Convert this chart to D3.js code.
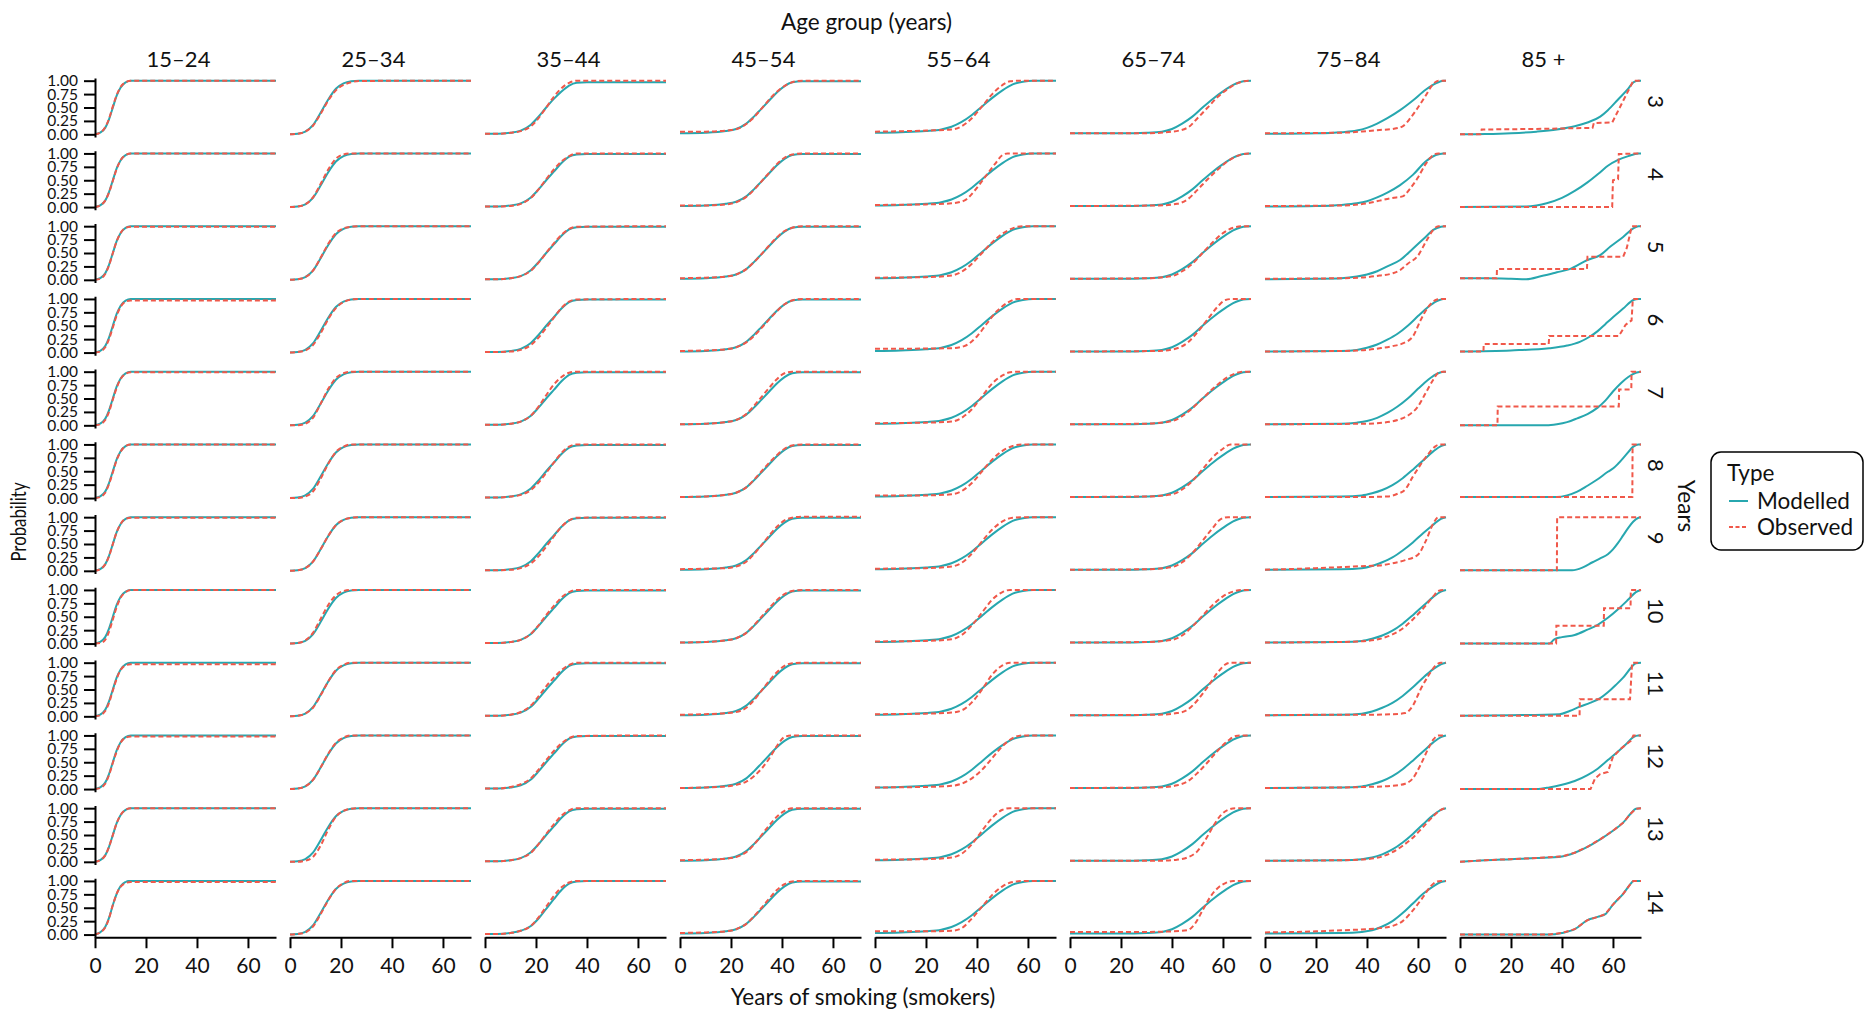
<!DOCTYPE html>
<html>
<head>
<meta charset="utf-8">
<script src="https://cdn.jsdelivr.net/npm/d3@7"></script>
<style>
  html, body { margin: 0; padding: 0; background: #fff; }
  svg { display: block; font-family: Lato, "Open Sans", sans-serif; }
</style>
</head>
<body>
<svg id="chart" width="1865" height="1011"></svg>
<script>
// Facets: columns are age groups, rows are follow-up years
const ageGroups = ["15–24", "25–34", "35–44", "45–54", "55–64", "65–74", "75–84", "85 +"];
const yearGroups = [3, 4, 5, 6, 7, 8, 9, 10, 11, 12, 13, 14];
const xTicks = [0, 20, 40, 60];
const yTicks = [0, 0.25, 0.5, 0.75, 1];
const seriesNames = ["Modelled", "Observed"];

// Each curve is a flat list x0, y0, x1, y1, ... (years of smoking, probability); one curve per year row
const mod_15_24 = [
  [0,0,2,0.03,4,0.12,5.5,0.28,7,0.5,8.5,0.72,10,0.87,12,0.97,14,1,71,1],
  [0,0,2,0.03,4,0.12,5.5,0.28,7,0.5,8.5,0.72,10,0.87,12,0.97,14,1,71,1],
  [0,0,2,0.03,4,0.12,5.5,0.28,7,0.5,8.5,0.72,10,0.87,12,0.97,14,1,71,1],
  [0,0,2,0.03,4,0.12,5.5,0.28,7,0.5,8.5,0.72,10,0.87,12,0.97,14,1,71,1],
  [0,0,2,0.03,4,0.12,5.5,0.28,7,0.5,8.5,0.72,10,0.87,12,0.97,14,1,71,1],
  [0,0,2,0.03,4,0.12,5.5,0.28,7,0.5,8.5,0.72,10,0.87,12,0.97,14,1,71,1],
  [0,0,2,0.03,4,0.12,5.5,0.28,7,0.5,8.5,0.72,10,0.87,12,0.97,14,1,71,1],
  [0,0,2,0.03,4,0.12,5.5,0.28,7,0.5,8.5,0.72,10,0.87,12,0.97,14,1,71,1],
  [0,0,2,0.03,4,0.12,5.5,0.28,7,0.5,8.5,0.72,10,0.87,12,0.97,14,1,71,1],
  [0,0,2,0.03,4,0.12,5.5,0.28,7,0.5,8.5,0.72,10,0.87,12,0.97,14,1,71,1],
  [0,0,2,0.03,4,0.12,5.5,0.28,7,0.5,8.5,0.72,10,0.87,12,0.97,14,1,71,1],
  [0,0,2,0.04,4,0.14,5.5,0.31,7,0.55,8.5,0.76,10,0.9,12,0.98,13,1,71,1]
];
const obs_15_24 = [
  [0,0,2,0.03,4,0.13,5.5,0.29,7,0.52,8.5,0.73,10,0.88,12,0.97,14,1,71,1],
  [0,0,2,0.03,4,0.12,5.5,0.27,7,0.49,8.5,0.71,10,0.87,12,0.97,14,1,71,1],
  [0,0,2,0.02,4,0.11,5.5,0.27,7,0.5,8.5,0.72,10,0.87,12,0.97,14,0.99,71,0.99],
  [0,0,2,0.02,4,0.1,5.5,0.25,7,0.47,8.5,0.69,10,0.85,12,0.95,14,0.97,71,0.97],
  [0,0,2,0.02,4,0.1,5.5,0.25,7,0.48,8.5,0.7,10,0.86,12,0.96,14,0.99,71,0.99],
  [0,0,2,0.02,4,0.1,5.5,0.26,7,0.48,8.5,0.71,10,0.86,12,0.97,14,1,71,1],
  [0,0,2,0.03,4,0.12,5.5,0.27,7,0.5,8.5,0.72,10,0.87,12,0.97,14,0.99,71,0.99],
  [0,0,2,0.01,4,0.07,5.5,0.22,7,0.45,8.5,0.68,10,0.85,12,0.96,14,1,71,1],
  [0,0,2,0.02,4,0.1,5.5,0.25,7,0.48,8.5,0.7,10,0.86,12,0.95,14,0.97,71,0.97],
  [0,0,2,0.02,4,0.1,5.5,0.26,7,0.49,8.5,0.7,10,0.86,12,0.96,14,0.98,71,0.98],
  [0,0,2,0.03,4,0.12,5.5,0.28,7,0.5,8.5,0.72,10,0.87,12,0.97,14,1,71,1],
  [0,0,2,0.04,4,0.13,5.5,0.3,7,0.55,8.5,0.76,10,0.89,12,0.96,14,0.98,71,0.98]
];

const mod_25_34 = [
  [0,0,3,0.01,6,0.05,9,0.17,12,0.4,15,0.65,18,0.85,21,0.95,24,0.99,27,1,71,1],
  [0,0,3,0.01,6,0.05,9,0.17,12,0.4,15,0.65,18,0.85,21,0.95,24,0.99,27,1,71,1],
  [0,0,3,0.01,6,0.05,9,0.17,12,0.4,15,0.65,18,0.85,21,0.95,24,0.99,27,1,71,1],
  [0,0,3,0.01,6,0.05,9,0.17,12,0.4,15,0.65,18,0.85,21,0.95,24,0.99,27,1,71,1],
  [0,0,3,0.01,6,0.05,9,0.17,12,0.4,15,0.65,18,0.85,21,0.95,24,0.99,27,1,71,1],
  [0,0,3,0.01,6,0.05,9,0.17,12,0.4,15,0.65,18,0.85,21,0.95,24,0.99,27,1,71,1],
  [0,0,3,0.01,6,0.05,9,0.17,12,0.4,15,0.65,18,0.85,21,0.95,24,0.99,27,1,71,1],
  [0,0,3,0.01,6,0.05,9,0.17,12,0.4,15,0.65,18,0.85,21,0.95,24,0.99,27,1,71,1],
  [0,0,3,0.01,6,0.05,9,0.17,12,0.4,15,0.65,18,0.85,21,0.95,24,0.99,27,1,71,1],
  [0,0,3,0.01,6,0.05,9,0.17,12,0.4,15,0.65,18,0.85,21,0.95,24,0.99,27,1,71,1],
  [0,0,3,0.01,6,0.05,9,0.17,12,0.4,15,0.65,18,0.85,21,0.95,24,0.99,27,1,71,1],
  [0,0,3,0.01,6,0.05,9,0.17,12,0.4,15,0.65,18,0.85,21,0.95,24,0.99,27,1,71,1]
];
const obs_25_34 = [
  [0,0,3,0.01,6,0.05,9,0.16,12,0.38,15,0.63,18,0.82,21,0.92,24,0.97,27,0.995,71,1],
  [0,0,3,0.01,6,0.05,9,0.18,12,0.43,15,0.7,18,0.9,21,0.98,24,1,71,1],
  [0,0,3,0.01,6,0.05,9,0.17,12,0.41,15,0.67,18,0.87,21,0.96,24,0.99,27,1,71,1],
  [0,0,3,0.01,6,0.04,9,0.14,12,0.36,15,0.62,18,0.83,21,0.94,24,0.99,27,1,71,1],
  [0,0,3,0,6,0.03,9,0.14,12,0.4,15,0.68,18,0.88,21,0.97,24,1,71,1],
  [0,0,3,0,6,0.03,9,0.12,12,0.36,15,0.64,18,0.86,21,0.96,24,1,71,1],
  [0,0,3,0.01,6,0.05,9,0.17,12,0.4,15,0.65,18,0.85,21,0.95,24,0.99,27,1,71,1],
  [0,0,3,0.01,6,0.06,9,0.2,12,0.46,15,0.72,18,0.9,21,0.98,24,1,71,1],
  [0,0,3,0.01,6,0.05,9,0.16,12,0.39,15,0.65,18,0.86,21,0.96,24,1,71,1],
  [0,0,3,0.01,6,0.05,9,0.17,12,0.4,15,0.66,18,0.86,21,0.96,24,1,71,1],
  [0,0,3,0,6,0.02,9,0.09,12,0.3,15,0.6,18,0.84,21,0.95,24,0.99,27,1,71,1],
  [0,0,3,0.01,6,0.04,9,0.15,12,0.38,15,0.64,18,0.85,21,0.96,24,1,71,1]
];

const mod_35_44 = [
  [0,0.01,5,0.01,10,0.03,14,0.07,18,0.18,21,0.33,24,0.5,27,0.66,30,0.8,33,0.91,36,0.96,40,0.97,71,0.97],
  [0,0.01,5,0.01,10,0.03,14,0.07,18,0.18,21,0.33,24,0.5,27,0.66,30,0.82,33,0.94,36,0.98,40,0.99,71,0.99],
  [0,0.01,5,0.01,10,0.03,14,0.07,18,0.18,21,0.33,24,0.5,27,0.66,30,0.82,33,0.94,36,0.98,40,0.99,71,0.99],
  [0,0.01,5,0.01,10,0.03,14,0.07,18,0.18,21,0.33,24,0.5,27,0.66,30,0.82,33,0.94,36,0.98,40,0.99,71,0.99],
  [0,0.01,5,0.01,10,0.03,14,0.07,18,0.18,21,0.33,24,0.5,27,0.66,30,0.82,33,0.94,36,0.98,40,0.99,71,0.99],
  [0,0.01,5,0.01,10,0.03,14,0.07,18,0.18,21,0.33,24,0.5,27,0.66,30,0.82,33,0.94,36,0.98,40,0.99,71,0.99],
  [0,0.01,5,0.01,10,0.03,14,0.07,18,0.18,21,0.33,24,0.5,27,0.66,30,0.82,33,0.94,36,0.98,40,0.99,71,0.99],
  [0,0.01,5,0.01,10,0.03,14,0.07,18,0.18,21,0.33,24,0.5,27,0.66,30,0.82,33,0.94,36,0.98,40,0.99,71,0.99],
  [0,0.01,5,0.01,10,0.03,14,0.07,18,0.18,21,0.33,24,0.5,27,0.66,30,0.82,33,0.94,36,0.98,40,0.99,71,0.99],
  [0,0.01,5,0.01,10,0.03,14,0.07,18,0.18,21,0.33,24,0.5,27,0.66,30,0.82,33,0.94,36,0.98,40,0.99,71,0.99],
  [0,0.01,5,0.01,10,0.03,14,0.07,18,0.18,21,0.33,24,0.5,27,0.66,30,0.82,33,0.94,36,0.98,40,0.99,71,0.99],
  [0,0.01,5,0.01,10,0.03,14,0.07,18,0.16,21,0.3,24,0.48,27,0.66,30,0.83,33,0.95,36,0.99,40,1,71,1]
];
const obs_35_44 = [
  [0,0.01,5,0.01,10,0.03,14,0.06,18,0.15,21,0.3,24,0.5,27,0.7,30,0.86,33,0.96,36,1,71,1],
  [0,0.01,5,0.01,10,0.02,14,0.06,18,0.17,21,0.33,24,0.52,27,0.7,30,0.85,33,0.95,36,1,71,1],
  [0,0.01,5,0.01,10,0.03,14,0.07,18,0.17,21,0.32,24,0.5,27,0.68,30,0.84,33,0.95,36,0.99,71,1],
  [0,0.01,5,0.01,10,0.02,14,0.05,18,0.14,21,0.28,24,0.46,27,0.65,30,0.83,33,0.95,36,0.99,71,1],
  [0,0.01,5,0.01,10,0.03,14,0.07,18,0.18,21,0.35,24,0.56,27,0.76,30,0.9,33,0.98,36,1,71,1],
  [0,0.01,5,0.01,10,0.03,14,0.06,18,0.15,21,0.29,24,0.47,27,0.66,30,0.84,33,0.96,36,1,71,1],
  [0,0.01,5,0.01,10,0.02,14,0.05,18,0.14,21,0.27,24,0.45,27,0.64,30,0.82,33,0.94,36,0.99,71,1],
  [0,0.01,5,0.01,10,0.03,14,0.07,18,0.18,21,0.34,24,0.53,27,0.7,30,0.86,33,0.96,36,1,71,1],
  [0,0.01,5,0.01,10,0.03,14,0.08,18,0.2,21,0.37,24,0.56,27,0.72,30,0.86,33,0.96,36,1,71,1],
  [0,0.01,5,0.01,10,0.04,14,0.09,18,0.2,21,0.36,24,0.54,27,0.71,30,0.85,33,0.95,36,0.99,71,1],
  [0,0.01,5,0.01,10,0.03,14,0.07,18,0.17,21,0.33,24,0.52,27,0.7,30,0.86,33,0.96,36,1,71,1],
  [0,0.01,5,0.01,10,0.03,14,0.07,18,0.16,21,0.32,24,0.52,27,0.72,30,0.88,33,0.97,36,1,71,1]
];

const mod_45_54 = [
  [0,0.02,10,0.03,18,0.06,22,0.1,26,0.2,29,0.33,32,0.48,35,0.63,38,0.78,41,0.9,44,0.97,48,0.99,71,0.99],
  [0,0.02,10,0.03,18,0.06,22,0.1,26,0.2,29,0.33,32,0.48,35,0.63,38,0.78,41,0.9,44,0.97,48,0.99,71,0.99],
  [0,0.02,10,0.03,18,0.06,22,0.1,26,0.2,29,0.33,32,0.48,35,0.63,38,0.78,41,0.9,44,0.97,48,0.99,71,0.99],
  [0,0.02,10,0.03,18,0.06,22,0.1,26,0.2,29,0.33,32,0.48,35,0.63,38,0.78,41,0.9,44,0.97,48,0.99,71,0.99],
  [0,0.02,10,0.03,18,0.06,22,0.1,26,0.2,29,0.33,32,0.48,35,0.63,38,0.78,41,0.9,44,0.97,48,0.99,71,0.99],
  [0,0.02,10,0.03,18,0.06,22,0.1,26,0.2,29,0.33,32,0.48,35,0.63,38,0.78,41,0.9,44,0.97,48,0.99,71,0.99],
  [0,0.02,10,0.03,18,0.06,22,0.1,26,0.2,29,0.33,32,0.48,35,0.63,38,0.78,41,0.9,44,0.97,48,0.99,71,0.99],
  [0,0.02,10,0.03,18,0.06,22,0.1,26,0.2,29,0.33,32,0.48,35,0.63,38,0.78,41,0.9,44,0.97,48,0.99,71,0.99],
  [0,0.02,10,0.03,18,0.06,22,0.1,26,0.2,29,0.33,32,0.48,35,0.63,38,0.78,41,0.9,44,0.97,48,0.99,71,0.99],
  [0,0.02,10,0.03,18,0.06,22,0.1,26,0.2,29,0.33,32,0.48,35,0.63,38,0.78,41,0.9,44,0.97,48,0.99,71,0.99],
  [0,0.02,10,0.03,18,0.06,22,0.1,26,0.2,29,0.33,32,0.48,35,0.63,38,0.78,41,0.9,44,0.97,48,0.99,71,0.99],
  [0,0.02,10,0.03,18,0.06,22,0.1,26,0.2,29,0.33,32,0.48,35,0.63,38,0.78,41,0.9,44,0.97,48,0.99,71,0.99]
];
const obs_45_54 = [
  [0,0.05,10,0.05,20,0.08,24,0.13,28,0.27,32,0.48,36,0.7,40,0.87,44,0.97,48,1,71,1],
  [0,0.03,10,0.03,18,0.05,22,0.09,26,0.19,29,0.32,32,0.48,35,0.64,38,0.8,41,0.92,44,0.98,48,1,71,1],
  [0,0.03,10,0.04,18,0.06,22,0.1,26,0.2,29,0.33,32,0.48,35,0.64,38,0.79,41,0.91,44,0.97,48,1,71,1],
  [0,0.03,10,0.04,18,0.06,22,0.1,26,0.19,29,0.31,32,0.46,35,0.62,38,0.77,41,0.9,44,0.97,48,1,71,1],
  [0,0.02,10,0.03,18,0.06,22,0.1,26,0.21,29,0.36,32,0.53,35,0.7,38,0.86,41,0.97,44,1,71,1],
  [0,0.02,10,0.03,18,0.06,22,0.1,26,0.2,29,0.34,32,0.5,35,0.66,38,0.8,41,0.92,44,0.98,48,1,71,1],
  [0,0.03,10,0.04,18,0.05,22,0.08,26,0.17,29,0.31,32,0.48,35,0.66,38,0.82,41,0.94,44,0.99,48,1.01,71,1.01],
  [0,0.02,10,0.03,18,0.06,22,0.1,26,0.2,29,0.34,32,0.5,35,0.66,38,0.81,41,0.92,44,0.98,48,1,71,1],
  [0,0.03,10,0.04,18,0.06,22,0.08,26,0.16,29,0.3,32,0.48,35,0.66,38,0.82,41,0.94,44,0.99,48,1,71,1],
  [0,0.02,10,0.03,18,0.05,22,0.08,26,0.14,29,0.24,32,0.38,35,0.57,38,0.8,41,0.97,44,1,71,1],
  [0,0.03,10,0.04,18,0.06,22,0.09,26,0.18,29,0.32,32,0.5,35,0.68,38,0.84,41,0.95,44,1,71,1],
  [0,0.03,10,0.04,18,0.06,22,0.1,26,0.2,29,0.34,32,0.5,35,0.67,38,0.83,41,0.94,44,0.99,48,1,71,1]
];

const mod_55_64 = [
  [0,0.03,10,0.04,20,0.06,26,0.09,30,0.14,34,0.23,38,0.36,42,0.52,46,0.68,50,0.82,54,0.93,58,0.98,62,1,71,1],
  [0,0.03,10,0.04,20,0.06,26,0.09,30,0.14,34,0.23,38,0.36,42,0.52,46,0.68,50,0.82,54,0.93,58,0.98,62,1,71,1],
  [0,0.03,10,0.04,20,0.06,26,0.09,30,0.14,34,0.23,38,0.36,42,0.52,46,0.68,50,0.82,54,0.93,58,0.98,62,1,71,1],
  [0,0.03,10,0.04,20,0.06,26,0.09,30,0.14,34,0.23,38,0.36,42,0.52,46,0.68,50,0.82,54,0.93,58,0.98,62,1,71,1],
  [0,0.03,10,0.04,20,0.06,26,0.09,30,0.14,34,0.23,38,0.36,42,0.52,46,0.68,50,0.82,54,0.93,58,0.98,62,1,71,1],
  [0,0.03,10,0.04,20,0.06,26,0.09,30,0.14,34,0.23,38,0.36,42,0.52,46,0.68,50,0.82,54,0.93,58,0.98,62,1,71,1],
  [0,0.03,10,0.04,20,0.06,26,0.09,30,0.14,34,0.23,38,0.36,42,0.52,46,0.68,50,0.82,54,0.93,58,0.98,62,1,71,1],
  [0,0.03,10,0.04,20,0.06,26,0.09,30,0.14,34,0.23,38,0.36,42,0.52,46,0.68,50,0.82,54,0.93,58,0.98,62,1,71,1],
  [0,0.03,10,0.04,20,0.06,26,0.09,30,0.14,34,0.23,38,0.36,42,0.52,46,0.68,50,0.82,54,0.93,58,0.98,62,1,71,1],
  [0,0.03,10,0.04,20,0.06,26,0.09,30,0.14,34,0.23,38,0.36,42,0.52,46,0.68,50,0.82,54,0.93,58,0.98,62,1,71,1],
  [0,0.03,10,0.04,20,0.06,26,0.09,30,0.14,34,0.23,38,0.36,42,0.52,46,0.68,50,0.82,54,0.93,58,0.98,62,1,71,1],
  [0,0.03,10,0.04,20,0.06,26,0.09,30,0.14,34,0.23,38,0.36,42,0.52,46,0.68,50,0.82,54,0.93,58,0.98,62,1,71,1]
];
const obs_55_64 = [
  [0,0.05,20,0.07,30,0.09,34,0.15,38,0.3,42,0.52,46,0.75,50,0.92,53,0.99,56,1,71,1],
  [0,0.04,20,0.05,30,0.07,35,0.12,39,0.3,43,0.55,47,0.8,50,0.97,52,1,71,1],
  [0,0.04,20,0.05,30,0.08,34,0.15,38,0.3,42,0.5,46,0.7,50,0.86,54,0.96,58,1,71,1],
  [0,0.07,30,0.08,35,0.12,40,0.3,44,0.55,48,0.78,52,0.93,56,1,71,1],
  [0,0.04,20,0.05,30,0.07,34,0.14,38,0.3,42,0.54,46,0.78,50,0.93,53,0.99,56,1,71,1],
  [0,0.05,20,0.05,30,0.07,34,0.13,38,0.28,42,0.5,46,0.72,50,0.88,54,0.97,58,1,71,1],
  [0,0.04,20,0.05,30,0.08,34,0.15,38,0.32,42,0.55,46,0.77,50,0.92,54,0.99,58,1,71,1],
  [0,0.04,20,0.05,30,0.08,34,0.16,38,0.34,42,0.58,46,0.82,50,0.96,53,1,71,1],
  [0,0.04,20,0.05,30,0.07,34,0.11,38,0.26,42,0.5,46,0.78,50,0.95,53,1,71,1],
  [0,0.03,20,0.04,30,0.06,34,0.1,38,0.2,42,0.36,46,0.58,50,0.8,54,0.95,58,1,71,1],
  [0,0.04,20,0.05,30,0.08,34,0.15,38,0.33,42,0.58,46,0.82,50,0.97,53,1,71,1],
  [0,0.06,20,0.06,30,0.07,34,0.12,38,0.3,42,0.52,46,0.74,50,0.9,54,0.98,58,1,71,1]
];

const mod_65_74 = [
  [0,0.02,20,0.02,30,0.03,36,0.05,40,0.1,44,0.2,48,0.33,52,0.5,56,0.66,60,0.8,64,0.92,68,0.99,71,1],
  [0,0.02,20,0.02,30,0.03,36,0.05,40,0.1,44,0.2,48,0.33,52,0.5,56,0.66,60,0.8,64,0.92,68,0.99,71,1],
  [0,0.02,20,0.02,30,0.03,36,0.05,40,0.1,44,0.2,48,0.33,52,0.5,56,0.66,60,0.8,64,0.92,68,0.99,71,1],
  [0,0.02,20,0.02,30,0.03,36,0.05,40,0.1,44,0.2,48,0.33,52,0.5,56,0.66,60,0.8,64,0.92,68,0.99,71,1],
  [0,0.02,20,0.02,30,0.03,36,0.05,40,0.1,44,0.2,48,0.33,52,0.5,56,0.66,60,0.8,64,0.92,68,0.99,71,1],
  [0,0.02,20,0.02,30,0.03,36,0.05,40,0.1,44,0.2,48,0.33,52,0.5,56,0.66,60,0.8,64,0.92,68,0.99,71,1],
  [0,0.02,20,0.02,30,0.03,36,0.05,40,0.1,44,0.2,48,0.33,52,0.5,56,0.66,60,0.8,64,0.92,68,0.99,71,1],
  [0,0.02,20,0.02,30,0.03,36,0.05,40,0.1,44,0.2,48,0.33,52,0.5,56,0.66,60,0.8,64,0.92,68,0.99,71,1],
  [0,0.02,20,0.02,30,0.03,36,0.05,40,0.1,44,0.2,48,0.33,52,0.5,56,0.66,60,0.8,64,0.92,68,0.99,71,1],
  [0,0.02,20,0.02,30,0.03,36,0.05,40,0.1,44,0.2,48,0.33,52,0.5,56,0.66,60,0.8,64,0.92,68,0.99,71,1],
  [0,0.02,20,0.02,30,0.03,36,0.05,40,0.1,44,0.2,48,0.33,52,0.5,56,0.66,60,0.8,64,0.92,68,0.99,71,1],
  [0,0.02,20,0.02,30,0.03,36,0.05,40,0.1,44,0.2,48,0.33,52,0.5,56,0.66,60,0.8,64,0.92,68,0.99,71,1]
];
const obs_65_74 = [
  [0,0.02,30,0.02,40,0.05,46,0.12,50,0.3,54,0.5,58,0.7,62,0.85,66,0.96,70,1,71,1],
  [0,0.02,35,0.03,42,0.06,46,0.14,50,0.32,54,0.52,58,0.7,62,0.86,66,0.96,70,1,71,1],
  [0,0.02,30,0.03,40,0.07,44,0.16,48,0.3,52,0.5,56,0.7,60,0.87,64,0.97,68,1,71,1],
  [0,0.02,35,0.03,42,0.08,46,0.18,50,0.38,54,0.62,58,0.86,61,0.98,64,1,71,1],
  [0,0.02,30,0.03,40,0.08,44,0.17,48,0.32,52,0.5,56,0.68,60,0.84,64,0.95,68,1,71,1],
  [0,0.02,30,0.03,40,0.07,44,0.16,48,0.32,52,0.54,56,0.76,60,0.92,63,1,71,1],
  [0,0.02,30,0.03,40,0.07,44,0.16,48,0.33,52,0.56,56,0.8,59,0.96,62,1,71,1],
  [0,0.02,30,0.03,40,0.07,44,0.15,48,0.32,52,0.52,56,0.72,60,0.88,64,0.97,68,1,71,1],
  [0,0.02,35,0.03,42,0.06,46,0.12,50,0.3,54,0.55,58,0.82,61,0.97,63,1,71,1],
  [0,0.02,35,0.03,42,0.07,46,0.14,50,0.3,54,0.5,58,0.72,62,0.9,65,0.99,67,1,71,1],
  [0,0.02,35,0.02,42,0.04,46,0.08,50,0.2,53,0.4,56,0.65,59,0.86,62,0.97,65,1,71,1],
  [0,0.05,30,0.05,40,0.06,46,0.08,49,0.2,52,0.45,55,0.7,58,0.87,61,0.96,64,1,71,1]
];

const mod_75_84 = [
  [0,0.01,20,0.02,30,0.04,36,0.07,40,0.12,44,0.2,48,0.3,53,0.45,58,0.63,63,0.83,67,0.95,70,1,71,1],
  [0,0.01,20,0.02,30,0.04,36,0.07,40,0.11,44,0.18,48,0.27,53,0.41,58,0.6,63,0.85,67,0.97,70,1,71,1],
  [0,0.01,20,0.02,30,0.03,36,0.06,40,0.1,44,0.16,48,0.25,53,0.37,58,0.58,63,0.8,66,0.93,69,0.99,71,1],
  [0,0.02,30,0.03,36,0.05,40,0.09,44,0.15,48,0.24,52,0.35,56,0.5,60,0.68,64,0.85,67,0.95,70,1,71,1],
  [0,0.02,30,0.03,36,0.05,40,0.08,44,0.14,48,0.23,52,0.35,56,0.5,60,0.68,64,0.85,67,0.95,70,1,71,1],
  [0,0.02,30,0.03,38,0.05,42,0.09,46,0.15,50,0.24,54,0.37,58,0.53,62,0.7,66,0.87,69,0.97,71,1],
  [0,0.02,30,0.03,38,0.05,42,0.09,46,0.16,50,0.25,54,0.38,58,0.53,62,0.7,66,0.86,69,0.97,71,1],
  [0,0.02,30,0.03,38,0.05,42,0.09,46,0.15,50,0.24,54,0.37,58,0.53,62,0.7,66,0.87,69,0.97,71,1],
  [0,0.02,30,0.03,38,0.05,42,0.09,46,0.16,50,0.25,54,0.38,58,0.54,62,0.72,66,0.88,69,0.97,71,1],
  [0,0.02,30,0.03,38,0.05,42,0.09,46,0.15,50,0.24,54,0.37,58,0.53,62,0.7,66,0.87,69,0.97,71,1],
  [0,0.02,30,0.03,38,0.05,42,0.08,46,0.14,50,0.23,54,0.36,58,0.52,62,0.7,66,0.87,69,0.97,71,1],
  [0,0.02,30,0.03,38,0.05,42,0.08,46,0.15,50,0.25,54,0.4,58,0.58,62,0.76,66,0.9,69,0.98,71,1]
];
const obs_75_84 = [
  [0,0.02,30,0.03,40,0.06,45,0.08,50,0.1,54,0.15,57,0.3,60,0.5,63,0.72,66,0.94,68,1,71,1],
  [0,0.02,30,0.03,40,0.07,45,0.12,50,0.17,54,0.2,57,0.35,60,0.55,63,0.8,66,0.97,68,1,71,1],
  [0,0.02,30,0.03,40,0.05,45,0.08,50,0.12,53,0.18,56,0.3,60,0.45,63,0.7,66,0.93,68,1,71,1],
  [0,0.02,30,0.03,40,0.05,45,0.08,50,0.12,54,0.17,58,0.3,61,0.6,64,0.85,67,0.98,69,1,71,1],
  [0,0.02,40,0.03,48,0.06,52,0.1,56,0.18,60,0.35,63,0.6,66,0.85,68,0.98,70,1,71,1],
  [0,0.02,40,0.02,48,0.03,52,0.08,55,0.16,58,0.4,61,0.62,64,0.82,67,0.97,69,1,71,1],
  [0,0.02,20,0.05,30,0.07,40,0.09,45,0.1,50,0.14,55,0.2,60,0.3,63,0.55,66,0.88,68,1,71,1],
  [0,0.02,30,0.03,40,0.05,46,0.1,50,0.17,54,0.28,58,0.45,62,0.65,66,0.88,68,0.98,70,1,71,1],
  [0,0.02,30,0.03,40,0.03,50,0.04,55,0.06,58,0.2,61,0.5,64,0.75,67,0.95,69,1,71,1],
  [0,0.02,30,0.03,40,0.04,50,0.06,55,0.1,58,0.2,61,0.45,64,0.75,66,0.92,68,1,71,1],
  [0,0.02,30,0.03,40,0.05,46,0.1,50,0.18,54,0.3,58,0.45,62,0.65,66,0.85,69,0.97,71,1],
  [0,0.04,20,0.06,30,0.08,40,0.1,45,0.12,50,0.16,54,0.25,58,0.45,62,0.7,65,0.9,67,0.98,69,1,71,1]
];

const mod_85_plus = [
  [0,0,10,0.005,20,0.02,30,0.05,38,0.09,45,0.15,50,0.22,55,0.33,58,0.45,62,0.65,66,0.85,68,0.97,70,1,71,1],
  [0,0,26,0.01,30,0.03,34,0.07,40,0.17,45,0.3,50,0.46,55,0.65,58,0.77,62,0.88,66,0.95,70,1,71,1],
  [0,0.03,10,0.03,20,0.02,26,0.01,32,0.07,38,0.14,43,0.2,50,0.37,55,0.46,59,0.62,64,0.8,68,0.96,70,1,71,1],
  [0,0.02,20,0.04,35,0.08,42,0.13,47,0.2,51,0.3,54,0.4,57,0.53,60,0.66,64,0.82,68,0.98,70,1,71,1],
  [0,0,34,0,38,0.02,42,0.06,46,0.13,50,0.21,54,0.33,57,0.46,60,0.63,63,0.78,66,0.9,69,0.98,71,1],
  [0,0.02,38,0.02,42,0.05,46,0.12,50,0.23,54,0.35,58,0.49,60,0.55,62,0.64,65,0.8,68,0.96,70,1,71,1],
  [0,0.01,44,0.01,48,0.06,52,0.16,55,0.23,58,0.31,60,0.4,62,0.52,64,0.66,66,0.8,68,0.92,70,0.99,71,1],
  [0,0,35,0,37,0.08,40,0.12,45,0.16,50,0.26,54,0.35,58,0.48,62,0.64,66,0.82,69,0.96,71,1],
  [0,0.01,20,0.02,39,0.04,43,0.1,47,0.18,51,0.25,55,0.34,58,0.45,61,0.58,64,0.72,67,0.9,69,0.99,71,1],
  [0,0,30,0,35,0.03,40,0.08,45,0.15,50,0.26,54,0.38,58,0.54,62,0.7,65,0.83,68,0.97,70,1,71,1],
  [0,0,10,0.03,20,0.05,30,0.07,40,0.1,45,0.17,50,0.28,55,0.42,60,0.58,64,0.73,67,0.9,69,0.99,71,1],
  [0,0,35,0,40,0.03,45,0.1,50,0.27,54,0.33,57,0.38,60,0.56,64,0.76,67,0.95,68,1,71,1]
];
const obs_85_plus = [
  [0,0,8,0,8.5,0.09,30,0.1,52,0.12,52.5,0.21,59.7,0.22,68,1,71,1],
  [0,0,59.7,0,60,0.5,62,0.52,62.3,0.99,71,1],
  [0,0.03,14.4,0.03,14.5,0.2,49.8,0.2,50,0.43,64,0.43,65.4,0.59,67.4,1,71,1],
  [0,0.02,9.2,0.02,9.3,0.16,34.8,0.16,35,0.31,62.3,0.31,65,0.52,67.3,0.6,67.8,1,71,1],
  [0,0,14.7,0,14.8,0.35,62.3,0.35,62.4,0.67,67.2,0.67,67.3,1,71,1],
  [0,0.02,67.6,0.02,67.7,1,71,1],
  [0,0.01,38,0.01,38.1,1,71,1],
  [0,0,37.7,0,37.8,0.33,56.4,0.33,56.5,0.66,66.9,0.66,67,1,71,1],
  [0,0.01,46.9,0.01,47,0.32,66.7,0.32,67.5,1,71,1],
  [0,0,51.2,0,53,0.2,55,0.28,58,0.32,60,0.6,63,0.75,67,0.9,68,1,71,1],
  [0,0,10,0.03,20,0.05,30,0.07,40,0.1,45,0.17,50,0.28,55,0.42,60,0.58,64,0.73,67,0.9,69,0.99,71,1],
  [0,0,35,0,40,0.03,45,0.1,50,0.27,54,0.33,57,0.38,60,0.56,64,0.76,67,0.95,68,1,71,1]
];

const modelledByAge = [mod_15_24, mod_25_34, mod_35_44, mod_45_54, mod_55_64, mod_65_74, mod_75_84, mod_85_plus];
const observedByAge = [obs_15_24, obs_25_34, obs_35_44, obs_45_54, obs_55_64, obs_65_74, obs_75_84, obs_85_plus];

// ---- layout ----
const svg = d3.select("#chart");
const colour = { Modelled: "#27a7af", Observed: "#f0584a" };
const left0 = 95, top0 = 78, colStep = 195, rowStep = 72.75;
const panelW = 181, panelH = 59;
const textColour = "#111";

const x = d3.scaleLinear().domain([0, 71]).range([0, panelW]);
const y = d3.scaleLinear().domain([-0.05, 1.05]).range([panelH, 0]);

const toPoints = flat => d3.range(0, flat.length, 2).map(i => [flat[i], flat[i + 1]]);
const smoothLine = d3.line().x(d => x(d[0])).y(d => y(d[1])).curve(d3.curveMonotoneX);
const stepLine = d3.line().x(d => x(d[0])).y(d => y(d[1])).curve(d3.curveLinear);

const panels = svg.append("g");

ageGroups.forEach((age, c) => {
  yearGroups.forEach((yr, r) => {
    const g = panels.append("g")
      .attr("transform", `translate(${left0 + c * colStep},${top0 + r * rowStep})`);

    const mod = toPoints(modelledByAge[c][r]);
    const obs = toPoints(observedByAge[c][r]);
    const obsLine = c === ageGroups.length - 1 ? stepLine : smoothLine;

    g.append("path")
      .attr("d", smoothLine(mod))
      .attr("fill", "none")
      .attr("stroke", colour.Modelled)
      .attr("stroke-width", 2);

    g.append("path")
      .attr("d", obsLine(obs))
      .attr("fill", "none")
      .attr("stroke", colour.Observed)
      .attr("stroke-width", 2)
      .attr("stroke-dasharray", "5,3");

    if (c === 0) {
      const ax = g.append("g")
        .call(d3.axisLeft(y).tickValues(yTicks).tickFormat(d3.format(".2f"))
          .tickSize(11).tickSizeOuter(0).tickPadding(6));
      ax.attr("font-family", null).attr("font-size", 15.5);
      ax.selectAll("text").attr("fill", textColour);
      ax.selectAll("path, line").attr("stroke", "#000").attr("stroke-width", 2);
    }
    if (r === yearGroups.length - 1) {
      const ax = g.append("g")
        .attr("transform", `translate(0,${panelH})`)
        .call(d3.axisBottom(x).tickValues(xTicks).tickFormat(d3.format("d"))
          .tickSize(11).tickSizeOuter(0).tickPadding(10));
      ax.attr("font-family", null).attr("font-size", 21);
      ax.selectAll("text").attr("fill", textColour);
      ax.selectAll("path, line").attr("stroke", "#000").attr("stroke-width", 2);
    }
  });
});

// column strip labels
svg.append("g").selectAll("text")
  .data(ageGroups)
  .join("text")
  .attr("x", (d, i) => left0 + i * colStep + panelW / 2 - 7)
  .attr("y", 66.5)
  .attr("text-anchor", "middle")
  .attr("font-size", 22)
  .attr("fill", textColour)
  .text(d => d);

// row strip labels (rotated)
svg.append("g").selectAll("text")
  .data(yearGroups)
  .join("text")
  .attr("transform", (d, i) => `translate(1648,${top0 + i * rowStep + panelH / 2 - 6}) rotate(90)`)
  .attr("text-anchor", "middle")
  .attr("font-size", 22)
  .attr("fill", textColour)
  .text(d => d);

// axis and facet titles
svg.append("text")
  .attr("x", 866.5).attr("y", 29.5)
  .attr("text-anchor", "middle")
  .attr("font-size", 22.5)
  .attr("fill", textColour)
  .text("Age group (years)");

svg.append("text")
  .attr("x", 863).attr("y", 1004.5)
  .attr("text-anchor", "middle")
  .attr("font-size", 22.5)
  .attr("fill", textColour)
  .text("Years of smoking (smokers)");

// y title: slightly condensed along its length
svg.append("text")
  .attr("transform", "translate(26,522) scale(1,0.82) rotate(-90)")
  .attr("text-anchor", "middle")
  .attr("font-size", 20.5)
  .attr("fill", textColour)
  .text("Probability");

svg.append("text")
  .attr("transform", "translate(1678,506) rotate(90)")
  .attr("text-anchor", "middle")
  .attr("font-size", 22.5)
  .attr("fill", textColour)
  .text("Years");

// legend
const legend = svg.append("g");
legend.append("rect")
  .attr("x", 1711).attr("y", 452).attr("width", 152).attr("height", 98)
  .attr("rx", 10).attr("ry", 10)
  .attr("fill", "#fff").attr("stroke", "#000").attr("stroke-width", 1.5);
legend.append("text")
  .attr("x", 1727).attr("y", 480.5)
  .attr("font-size", 22.5).attr("fill", textColour)
  .text("Type");
seriesNames.forEach((name, i) => {
  const yy = 501 + i * 26;
  legend.append("line")
    .attr("x1", 1729).attr("x2", 1748).attr("y1", yy).attr("y2", yy)
    .attr("stroke", colour[name]).attr("stroke-width", 2)
    .attr("stroke-dasharray", name === "Observed" ? "4,2.5" : null);
  legend.append("text")
    .attr("x", 1757).attr("y", yy + 7.5)
    .attr("font-size", 22.5).attr("fill", textColour)
    .text(name);
});
</script>
</body>
</html>
